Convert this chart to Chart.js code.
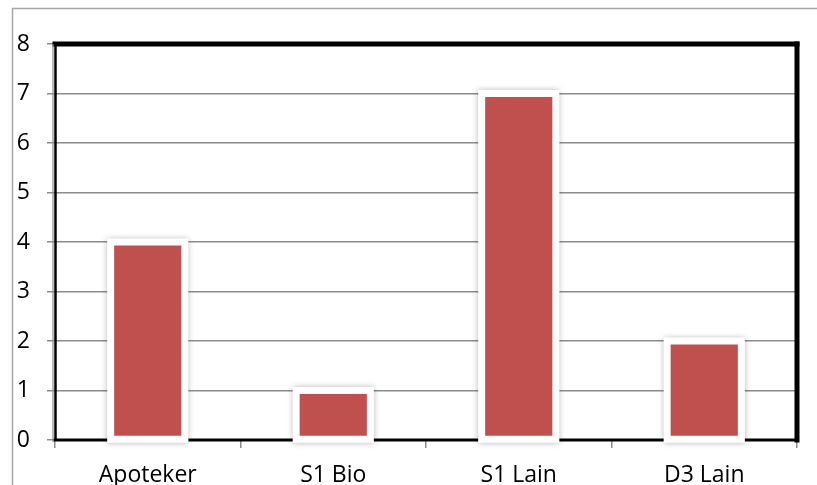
<!DOCTYPE html>
<html><head><meta charset="utf-8">
<script src="https://cdn.jsdelivr.net/npm/chart.js@4"></script>
<style>html,body{margin:0;padding:0;background:#fff}</style>
</head><body>
<canvas id="c" width="817" height="485"></canvas>
<script>
const categories = ['Apoteker', 'S1 Bio', 'S1 Lain', 'D3 Lain'];
const values = [4, 1, 7, 2];
const yMin = 0, yMax = 8, yStep = 1;

const outerFrame = {
  id: 'outerFrame',
  beforeDraw(chart) {
    const ctx = chart.ctx;
    ctx.save();
    ctx.strokeStyle = '#a6a6a6';
    ctx.lineWidth = 1.5;
    ctx.beginPath();
    ctx.moveTo(12.5, chart.height);
    ctx.lineTo(12.5, 8.5);
    ctx.lineTo(chart.width, 8.5);
    ctx.stroke();
    ctx.restore();
  }
};

const plotFrame = {
  id: 'plotFrame',
  beforeDatasetsDraw(chart) {
    const {ctx, chartArea: a} = chart;
    ctx.save();
    ctx.strokeStyle = '#000';
    ctx.lineCap = 'square';
    ctx.lineWidth = 5;
    ctx.beginPath(); ctx.moveTo(a.left, a.top); ctx.lineTo(a.right, a.top); ctx.stroke();
    ctx.beginPath(); ctx.moveTo(a.right, a.top); ctx.lineTo(a.right, a.bottom); ctx.stroke();
    ctx.lineWidth = 3;
    ctx.beginPath(); ctx.moveTo(a.left, a.bottom); ctx.lineTo(a.right, a.bottom); ctx.stroke();
    ctx.lineWidth = 2.5;
    ctx.lineCap = 'butt';
    ctx.beginPath(); ctx.moveTo(a.left + 0.5, a.top); ctx.lineTo(a.left + 0.5, a.bottom); ctx.stroke();
    ctx.strokeStyle = '#8c8c8c';
    ctx.lineWidth = 1.2;
    ctx.beginPath(); ctx.moveTo(a.left - 2, a.top); ctx.lineTo(a.left - 2, a.bottom + 2); ctx.stroke();
    ctx.restore();
  }
};

const barBacks = {
  id: 'barBacks',
  beforeDatasetsDraw(chart) {
    const ctx = chart.ctx;
    const meta = chart.getDatasetMeta(0);
    ctx.save();
    ctx.fillStyle = '#ffffff';
    ctx.shadowColor = 'rgba(0,0,0,0.28)';
    ctx.shadowBlur = 6;
    meta.data.forEach(el => {
      const p = el.getProps(['x', 'y', 'base', 'width'], true);
      const ext = 3.5;
      ctx.fillRect(p.x - p.width / 2 - ext, p.y - ext, p.width + 2 * ext, p.base - p.y + 2 * ext);
    });
    ctx.restore();
  }
};

const fontFamily = '"Open Sans", "Liberation Sans", sans-serif';

new Chart(document.getElementById('c'), {
  type: 'bar',
  data: {
    labels: categories,
    datasets: [{
      data: values,
      backgroundColor: '#C0504D',
      borderColor: '#ffffff',
      borderWidth: 3.5,
      borderSkipped: false,
      barPercentage: 0.40,
      categoryPercentage: 1.0
    }]
  },
  options: {
    responsive: false,
    animation: false,
    layout: { padding: { top: 44, right: 20, left: 0, bottom: 0 } },
    plugins: { legend: { display: false }, tooltip: { enabled: false } },
    scales: {
      y: {
        min: yMin, max: yMax,
        ticks: { stepSize: yStep, color: '#000', padding: 17, font: { family: fontFamily, size: 23 } },
        grid: { color: '#8c8c8c', lineWidth: 1.5, tickLength: 8, drawTicks: true },
        border: { display: false },
        afterFit(scale) { scale.width = 55; }
      },
      x: {
        offset: true,
        ticks: { color: '#000', padding: 14, font: { family: fontFamily, size: 23 } },
        grid: { offset: true, drawOnChartArea: false, drawTicks: true, tickLength: 8, color: '#8c8c8c', lineWidth: 1.5 },
        border: { display: false },
        afterFit(scale) { scale.height = 45; }
      }
    }
  },
  plugins: [outerFrame, plotFrame, barBacks]
});
</script>
</body></html>
